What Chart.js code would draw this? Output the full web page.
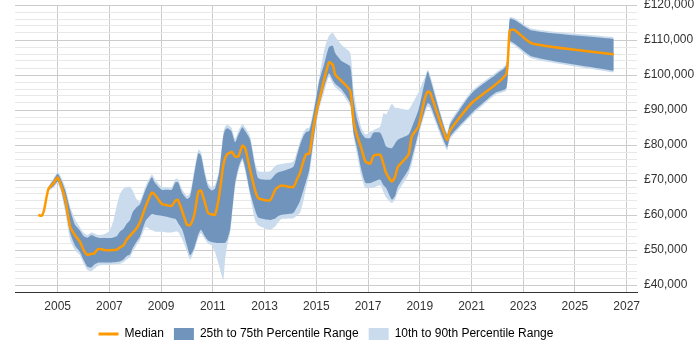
<!DOCTYPE html>
<html>
<head>
<meta charset="utf-8">
<script src="https://cdn.jsdelivr.net/npm/chart.js@4/dist/chart.umd.min.js"></script>
<style>
  html, body { margin: 0; padding: 0; background: #fff; }
  #wrap { width: 700px; height: 350px; }
</style>
</head>
<body>
<div id="wrap"><canvas id="salary-chart"></canvas></div>
<script>
// sample dates (decimal years) and salary percentiles in GBP
const years = [
  2004.25, 2004.38, 2004.47, 2004.64, 2004.83, 2005.0, 2005.12, 2005.3, 2005.48, 2005.67,
  2005.86, 2006.0, 2006.15, 2006.3, 2006.4, 2006.57, 2006.8, 2007.0, 2007.15, 2007.28,
  2007.41, 2007.54, 2007.67, 2007.8, 2007.9, 2008.06, 2008.18, 2008.4, 2008.64, 2008.76,
  2009.02, 2009.22, 2009.41, 2009.55, 2009.65, 2009.82, 2010.0, 2010.12, 2010.28, 2010.44,
  2010.54, 2010.7, 2010.82, 2010.95, 2011.08, 2011.24, 2011.4, 2011.47, 2011.56, 2011.67,
  2011.73, 2011.86, 2011.99, 2012.14, 2012.25, 2012.44, 2012.63, 2012.76, 2013.21, 2013.41,
  2013.53, 2013.67, 2014.11, 2014.27, 2014.37, 2014.5, 2014.61, 2014.73, 2014.89, 2015.02,
  2015.12, 2015.3, 2015.49, 2015.64, 2015.73, 2015.99, 2016.31, 2016.44, 2016.57, 2016.74,
  2016.9, 2017.09, 2017.21, 2017.47, 2017.6, 2017.7, 2017.92, 2018.05, 2018.15, 2018.56,
  2018.69, 2018.95, 2019.18, 2019.31, 2019.4, 2020.05, 2020.18, 2021.01, 2021.92, 2022.35,
  2022.48, 2022.66, 2023.34, 2026.5
];
const median = [
  60000, 59800, 61300, 67400, 69000, 70700, 68700, 64200, 56700, 54200,
  52400, 50000, 48600, 48900, 48950, 50300, 50000, 49900, 50000, 50100,
  50800, 51300, 53000, 54100, 54900, 56300, 57900, 62400, 66400, 65800,
  63200, 62800, 62600, 64100, 64300, 61000, 57200, 57100, 60000, 66700,
  67000, 63400, 60500, 60200, 60000, 65300, 74000, 76200, 77400, 77800,
  78100, 76750, 76750, 79800, 79100, 72900, 67200, 64800, 64200, 67200,
  68000, 68400, 68000, 70500, 72000, 75300, 77400, 77500, 85000, 90000,
  93000, 98600, 103600, 102900, 100100, 98200, 95500, 86800, 82900, 79100,
  75300, 74700, 76900, 77200, 74500, 72000, 69600, 71000, 73700, 77200,
  82400, 85300, 92900, 95300, 95000, 81500, 84300, 92000, 97200, 100400,
  112700, 112900, 109000, 105900
];
const p25 = [
  60000, 59800, 61300, 67000, 68200, 69600, 67800, 62000, 55000, 51300,
  49500, 47200, 45200, 45000, 45700, 46400, 46400, 46400, 46500, 46600,
  46800, 47300, 48300, 48800, 50500, 52500, 53800, 58300, 60300, 60100,
  59800, 59500, 59100, 58900, 57800, 55800, 51300, 48500, 50600, 54500,
  55800, 53800, 52700, 52300, 52100, 52000, 52000, 52000, 53000, 56000,
  60000, 69000, 73500, 76200, 73500, 66500, 61500, 59300, 58600, 59000,
  59700, 60100, 60600, 62500, 64000, 67000, 69700, 73000, 81500, 88000,
  91500, 96500, 100500, 98500, 97500, 95800, 92000, 83400, 79300, 73000,
  69200, 69150, 69500, 70100, 68500, 67700, 64400, 65500, 68000, 72900,
  76000, 83500, 89500, 92000, 91500, 79400, 82500, 89100, 94900, 96300,
  109600, 109000, 105300, 101200
];
const p75 = [
  60000, 59800, 61300, 67800, 69900, 71700, 70300, 66800, 61500, 57200,
  55600, 54000, 53500, 54300, 54000, 53500, 53400, 53400, 53600, 53900,
  55300, 56000, 57500, 58600, 60800, 62300, 63000, 67300, 70800, 69200,
  67200, 67200, 67200, 69300, 69400, 66200, 64600, 65300, 71700, 77700,
  77000, 71200, 68000, 67000, 67500, 72000, 82300, 84200, 84800, 84300,
  83800, 80800, 83000, 85100, 84000, 81500, 74000, 70500, 70100, 71600,
  72200, 72500, 73800, 77500, 80000, 82500, 83700, 84000, 89000, 94400,
  98500, 103000, 108000, 108300, 106300, 103900, 102400, 93000, 87500, 83500,
  82000, 82000, 83500, 83500, 81500, 79600, 79100, 80500, 81500, 82900,
  85000, 90000, 97500, 101000, 99000, 82900, 86000, 94800, 100000, 102700,
  116000, 115800, 112700, 110300
];
const p10 = [
  60000, 59800, 61300, 66800, 67800, 69000, 66800, 60500, 53000, 50000,
  48500, 46200, 44300, 44000, 44500, 45500, 45700, 45700, 45900, 46000,
  46100, 46500, 47300, 48000, 49500, 51500, 52800, 56500, 55700, 55300,
  55200, 55000, 55000, 55300, 55200, 53000, 49500, 47300, 49800, 53500,
  54800, 53000, 51800, 51300, 49500, 45500, 41500, 47000, 51500, 55000,
  59000, 68000, 72500, 75500, 72500, 65500, 58500, 57000, 55800, 56700,
  58000, 58900, 59100, 60000, 60600, 64000, 68000, 71500, 80000, 86500,
  90500, 95000, 99500, 97500, 96500, 94800, 91000, 82400, 77500, 71000,
  67700, 67700, 67800, 68500, 66500, 65000, 63400, 64500, 66500, 71500,
  74500, 82500, 88500, 91000, 90500, 78500, 81800, 88500, 94300, 95700,
  109000, 108400, 104700, 100700
];
const p90 = [
  60000, 59800, 61300, 68000, 70300, 72200, 71000, 67800, 62500, 58800,
  56500, 55000, 54300, 55000, 54800, 54300, 54500, 55500, 58200, 62500,
  66000, 67500, 68000, 68000, 67000, 64400, 63800, 68300, 71600, 70200,
  68000, 68000, 68000, 70300, 70300, 67200, 65500, 66300, 72700, 78700,
  78000, 72200, 69000, 68000, 68500, 73000, 83300, 85200, 85800, 85300,
  84800, 81800, 84000, 86000, 85000, 82500, 75000, 72500, 72500, 74000,
  74400, 74600, 75300, 78500, 81000, 83500, 84700, 85000, 90000, 95400,
  99500, 107000, 111200, 112100, 111000, 108500, 106300, 96000, 90000, 85000,
  83000, 83700, 84200, 85300, 89100, 88700, 91800, 90600, 90600, 90100,
  91500, 95000, 99000, 101500, 100000, 83500, 86700, 95400, 100600, 103300,
  116500, 116300, 113200, 110800
];
const xTickYears = [2005, 2007, 2009, 2011, 2013, 2015, 2017, 2019, 2021, 2023, 2025, 2027];

const orange = '#ff9900';
const darkBand = '#7094bb';
const lightBand = '#c9dbec';
const font = { family: 'Liberation Sans, Arial, sans-serif', size: 12 };

document.addEventListener('DOMContentLoaded', function() {
    const ctx = document.getElementById('salary-chart').getContext('2d');

    function points(values) {
        return years.map(function(y, i) { return { x: y, y: values[i] }; });
    }

    const bandStyle = { pointRadius: 0, borderWidth: 0, tension: 0.2 };

    new Chart(ctx, {
        type: 'line',
        data: {
            datasets: [
                Object.assign({ label: 'Median', data: points(median), borderColor: orange,
                    backgroundColor: orange, fill: false, order: 0 }, bandStyle, { borderWidth: 2.5 }),
                Object.assign({ label: '25th to 75th Percentile Range', data: points(p75),
                    backgroundColor: darkBand, borderColor: darkBand, fill: '+1', order: 1 }, bandStyle),
                Object.assign({ label: 'p25', data: points(p25), backgroundColor: darkBand,
                    borderColor: darkBand, fill: false, order: 1 }, bandStyle),
                Object.assign({ label: '10th to 90th Percentile Range', data: points(p90),
                    backgroundColor: lightBand, borderColor: lightBand, fill: '+1', order: 2 }, bandStyle),
                Object.assign({ label: 'p10', data: points(p10), backgroundColor: lightBand,
                    borderColor: lightBand, fill: false, order: 2 }, bandStyle)
            ]
        },
        options: {
            responsive: true,
            maintainAspectRatio: false,
            animation: false,
            layout: { padding: { left: 15, right: 0, top: 5, bottom: 0 } },
            plugins: {
                tooltip: { enabled: false },
                legend: {
                    position: 'bottom',
                    fullSize: false,
                    labels: {
                        usePointStyle: true,
                        pointStyleWidth: 20,
                        boxHeight: 12,
                        padding: 10,
                        color: '#333',
                        font: font,
                        generateLabels: function() {
                            return [
                                { text: 'Median', pointStyle: 'line', strokeStyle: orange, fillStyle: orange, lineWidth: 3, datasetIndex: 0 },
                                { text: '25th to 75th Percentile Range', pointStyle: 'rect', strokeStyle: darkBand, fillStyle: darkBand, lineWidth: 0, datasetIndex: 1 },
                                { text: '10th to 90th Percentile Range', pointStyle: 'rect', strokeStyle: lightBand, fillStyle: lightBand, lineWidth: 0, datasetIndex: 3 }
                            ];
                        }
                    }
                }
            },
            scales: {
                x: {
                    type: 'linear',
                    min: 2003.35,
                    max: 2027.4,
                    afterBuildTicks: function(scale) {
                        scale.ticks = xTickYears.map(function(v) { return { value: v }; });
                    },
                    afterFit: function(scale) {
                        scale.height = 26;
                    },
                    ticks: {
                        autoSkip: false,
                        maxRotation: 0,
                        padding: 7,
                        color: '#333',
                        font: font,
                        callback: function(value) { return String(value); }
                    },
                    grid: { color: '#cccccc', drawTicks: false },
                    border: { color: '#333', width: 1 }
                },
                y: {
                    position: 'right',
                    min: 38000,
                    max: 120000,
                    afterFit: function(scale) {
                        scale.width = 63;
                        scale.paddingTop = 0;
                        scale.paddingBottom = 0;
                    },
                    ticks: {
                        stepSize: 2000,
                        autoSkip: false,
                        padding: 7,
                        color: '#333',
                        font: font,
                        callback: function(value) {
                            return value % 10000 === 0 ? '£' + value.toLocaleString('en-GB') : '';
                        }
                    },
                    grid: {
                        drawTicks: false,
                        color: function(c) {
                            return c.tick && c.tick.value % 10000 === 0 ? '#cccccc' : '#e8e8e8';
                        }
                    },
                    border: { display: false }
                }
            }
        }
    });
});
</script>
</body>
</html>
